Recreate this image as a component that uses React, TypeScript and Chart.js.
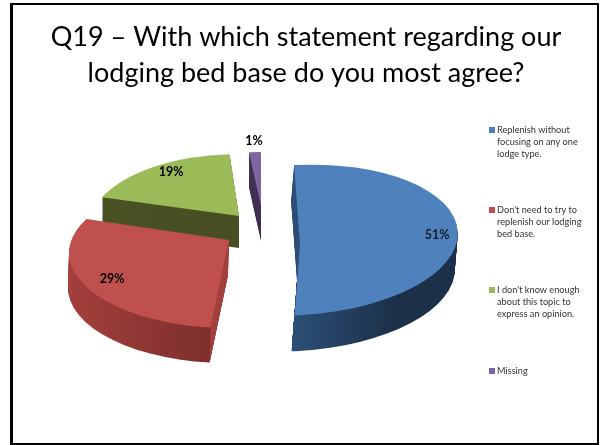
import React, { useEffect, useRef } from "react";
import { Chart, registerables } from "chart.js";

Chart.register(...registerables);

const categories: string[] = [
  "Replenish without focusing on any one lodge type.",
  "Don't need to try to replenish our lodging bed base.",
  "I don't know enough about this topic to express an opinion.",
  "Missing",
];
const percentages: number[] = [51, 29, 19, 1];
const titleLines: string[] = [
  "Q19 \u2013 With which statement regarding our",
  "lodging bed base do you most agree?",
];
const legendLines: string[][] = [
  ["Replenish without", "focusing on any one", "lodge type."],
  ["Don't need to try to", "replenish our lodging", "bed base."],
  ["I don't know enough", "about this topic to", "express an opinion."],
  ["Missing"],
];
const faceColors = ["#4f81bd", "#c0504d", "#9bbb59", "#8064a2"];
const wallLight = ["#2c4d75", "#a33f3c", "#4a5224", "#4d3b62"];
const wallDark = ["#1c3049", "#7c2f2d", "#434a20", "#2e2340"];

// Projection of each exploded slice: pixel offsets from the chart's arc centre,
// ellipse radii, and small angle corrections (degrees) for the tilted view.
const projection = [
  { dx: -8, dy: 0, rx: 160, ry: 75, rot: -3, apexDx: 2, apexDy: 5, wallDx: -3, depth: 36, adj0: 0, adj1: -1 },
  { dx: -77, dy: 13, rx: 160, ry: 75, rot: 0, apexDx: 0, apexDy: -13, wallDx: -1, depth: 35, adj0: 3, adj1: 9 },
  { dx: -67, dy: -13, rx: 150, ry: 73, rot: 0, apexDx: 0, apexDy: -11, wallDx: 0, depth: 32, adj0: 6, adj1: 0 },
  { dx: -45, dy: -34, rx: 150, ry: 54, rot: 0, apexDx: 0, apexDy: 0, wallDx: 0, depth: 35, adj0: -1, adj1: 0 },
];
const labelOffsets = [
  { dx: 131, dy: -5, color: "#10202f" },
  { dx: -194, dy: 39, color: "#000000" },
  { dx: -135, dy: -68, color: "#000000" },
  { dx: -52, dy: -99, color: "#000000" },
];

const LEGEND_X = 489;
const LEGEND_Y = [130, 210, 290, 371];
const DEG = Math.PI / 180;

const tiltedPie = {
  id: "tiltedPie",
  beforeDatasetDraw(chart: any) {
    const { ctx } = chart;
    const arcs = chart.getDatasetMeta(0).data;
    const order = [2, 3, 0, 1];
    order.forEach((i) => {
      const a = arcs[i];
      const p = projection[i];
      const cx = a.x + p.dx;
      const cy = a.y + p.dy;
      const ax = cx + p.apexDx;
      const ay = cy + p.apexDy;
      const t0 = a.startAngle + p.adj0 * DEG;
      const t1 = a.endAngle + p.adj1 * DEG;
      const rot = p.rot * DEG;
      const trace = (ox: number, oy: number) => {
        ctx.beginPath();
        ctx.moveTo(ax + ox, ay + oy);
        ctx.ellipse(cx + ox, cy + oy, p.rx, p.ry, rot, t0, t1);
        ctx.closePath();
      };
      const g = ctx.createLinearGradient(cx - p.rx, 0, cx + p.rx, 0);
      if (i === 0) {
        g.addColorStop(0.5, wallLight[i]);
        g.addColorStop(0.8, wallDark[i]);
      } else {
        g.addColorStop(0, wallLight[i]);
        g.addColorStop(i === 1 ? 0.45 : 1, wallDark[i]);
      }
      ctx.save();
      ctx.fillStyle = g;
      for (let d = p.depth; d > 0; d--) {
        trace((p.wallDx * d) / p.depth, d);
        ctx.fill();
      }
      if (i === 1) {
        // radial cut face of the front slice
        const fx = cx + p.rx * Math.cos(t0);
        const fy = cy + p.ry * Math.sin(t0);
        ctx.fillStyle = wallLight[i];
        ctx.beginPath();
        ctx.moveTo(ax, ay);
        ctx.lineTo(ax + p.wallDx, ay + p.depth);
        ctx.lineTo(fx + p.wallDx, fy + p.depth);
        ctx.lineTo(fx, fy);
        ctx.closePath();
        ctx.fill();
      }
      ctx.fillStyle = faceColors[i];
      trace(0, 0);
      ctx.fill();
      ctx.restore();
    });
    return false;
  },
  afterDraw(chart: any) {
    const { ctx } = chart;
    const arcs = chart.getDatasetMeta(0).data;
    ctx.save();
    ctx.textAlign = "center";
    ctx.textBaseline = "middle";
    ctx.font = "bold 12.5px Lato";
    arcs.forEach((a: any, i: number) => {
      ctx.fillStyle = labelOffsets[i].color;
      ctx.fillText(`${percentages[i]}%`, a.x + labelOffsets[i].dx, a.y + labelOffsets[i].dy);
    });
    ctx.textAlign = "left";
    ctx.font = "9.2px Lato";
    legendLines.forEach((lines, i) => {
      ctx.fillStyle = faceColors[i];
      ctx.fillRect(LEGEND_X, LEGEND_Y[i] - 3, 6, 6);
      ctx.fillStyle = "#333333";
      lines.forEach((line, j) => ctx.fillText(line, LEGEND_X + 8, LEGEND_Y[i] + j * 12));
    });
    ctx.restore();
  },
};

export default function App() {
  const ref = useRef<HTMLCanvasElement>(null);
  useEffect(() => {
    const chart = new Chart(ref.current as HTMLCanvasElement, {
      type: "pie",
      data: {
        labels: categories,
        datasets: [{ data: percentages, backgroundColor: faceColors, borderWidth: 0 }],
      },
      options: {
        responsive: false,
        animation: false,
        layout: { padding: { left: 12, right: 0, top: 0, bottom: 125 } },
        plugins: {
          legend: { display: false },
          tooltip: { enabled: false },
          title: {
            display: true,
            text: titleLines,
            color: "#000000",
            font: { family: "Lato", size: 27, weight: "normal", lineHeight: "36px" },
            padding: { top: 19, bottom: 69 },
          },
        },
      },
      plugins: [tiltedPie],
    });
    return () => chart.destroy();
  }, []);
  return (
    <div style={{ position: "absolute", left: 0, top: 0, width: 600, height: 445, background: "#ffffff" }}>
      <canvas ref={ref} width={600} height={445} style={{ display: "block" }} />
      <div
        style={{
          position: "absolute",
          left: 10,
          top: 3,
          width: 589,
          height: 442,
          borderStyle: "solid",
          borderColor: "#000000",
          borderWidth: "2px 2px 2px 3px",
          boxSizing: "border-box",
          pointerEvents: "none",
        }}
      />
    </div>
  );
}
